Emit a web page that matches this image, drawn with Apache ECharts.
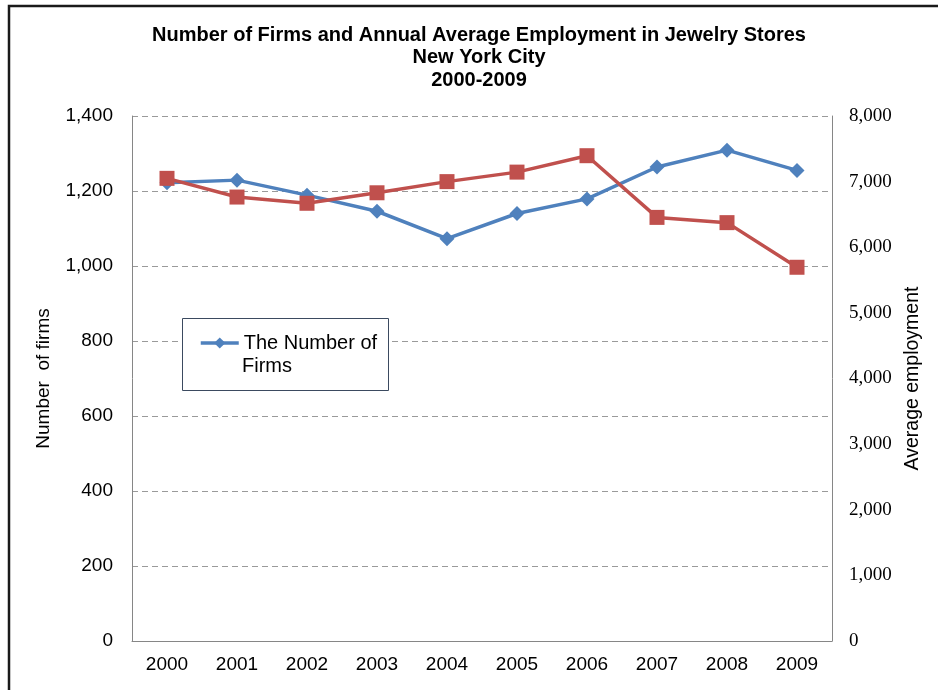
<!DOCTYPE html>
<html>
<head>
<meta charset="utf-8">
<script src="https://cdn.jsdelivr.net/npm/echarts@6/dist/echarts.min.js"></script>
<style>
  html, body { margin: 0; padding: 0; background: #ffffff; }
  #chart { width: 938px; height: 690px; }
</style>
</head>
<body>
<div id="chart"></div>
<script>
// Jewelry stores in New York City, 2000-2009
const years = ['2000', '2001', '2002', '2003', '2004', '2005', '2006', '2007', '2008', '2009'];
const firms = [1222, 1229, 1189, 1146, 1073, 1140, 1179, 1264, 1309, 1255];
const employment = [7050, 6765, 6670, 6830, 7000, 7145, 7395, 6455, 6375, 5695];

const firmTicks = { min: 0, max: 1400, interval: 200 };
const employmentTicks = { min: 0, max: 8000, interval: 1000 };

const sans = 'Liberation Sans, Arial, sans-serif';
const serif = 'Liberation Serif, Times New Roman, serif';
const blue = '#4F81BD';
const red = '#C0504D';

const chart = echarts.init(document.getElementById('chart'), null, { renderer: 'canvas' });

chart.setOption({
  backgroundColor: '#ffffff',
  animation: false,
  title: {
    text: 'Number of Firms and Annual Average Employment in Jewelry Stores\nNew York City\n2000-2009',
    left: 479,
    top: 24,
    padding: 0,
    textAlign: 'center',
    textStyle: {
      fontFamily: sans,
      fontWeight: 'bold',
      fontSize: 20,
      lineHeight: 22.5,
      color: '#000000'
    }
  },
  graphic: [
    {
      // outer frame (open at the right and bottom)
      type: 'rect',
      shape: { x: 9, y: 6, width: 1000, height: 1000 },
      style: { fill: 'none', stroke: '#1a1a1a', lineWidth: 2.5 },
      silent: true
    },
    {
      // legend box
      type: 'rect',
      shape: { x: 182.5, y: 318.5, width: 206, height: 72 },
      style: { fill: '#ffffff', stroke: '#3b4a60', lineWidth: 1 },
      z: 4,
      silent: true
    },
    {
      // second line of the legend entry
      type: 'text',
      left: 242,
      top: 356,
      z: 12,
      style: {
        text: 'Firms',
        fontFamily: sans,
        fontSize: 20,
        fill: '#000000'
      },
      silent: true
    }
  ],
  legend: {
    data: ['The Number of Firms'],
    left: 199,
    top: 333,
    padding: 0,
    itemWidth: 38,
    itemHeight: 14,
    z: 10,
    formatter: function () { return 'The Number of'; },
    lineStyle: { width: 3.5 },
    textStyle: {
      fontFamily: sans,
      fontSize: 20,
      color: '#000000'
    }
  },
  grid: {
    left: 132,
    right: 106,
    top: 116,
    bottom: 49,
    containLabel: false
  },
  xAxis: {
    type: 'category',
    data: years,
    boundaryGap: true,
    axisLine: { show: true, lineStyle: { color: '#868686', width: 1 } },
    axisTick: { show: false },
    axisLabel: {
      fontFamily: sans,
      fontSize: 19,
      color: '#000000',
      margin: 14
    }
  },
  yAxis: [
    {
      type: 'value',
      min: firmTicks.min,
      max: firmTicks.max,
      interval: firmTicks.interval,
      position: 'left',
      name: 'Number  of firms',
      nameLocation: 'middle',
      nameRotate: 90,
      nameGap: 79,
      nameTextStyle: { fontFamily: sans, fontSize: 19, color: '#000000' },
      axisLine: { show: true, lineStyle: { color: '#868686', width: 1 } },
      axisTick: { show: false },
      axisLabel: {
        fontFamily: sans,
        fontSize: 19,
        color: '#000000',
        margin: 19,
        formatter: function (v) { return v.toLocaleString('en-US'); }
      },
      splitLine: {
        show: true,
        lineStyle: { color: '#9a9a9a', type: [6, 4], width: 1 }
      }
    },
    {
      type: 'value',
      min: employmentTicks.min,
      max: employmentTicks.max,
      interval: employmentTicks.interval,
      position: 'right',
      name: 'Average employment',
      nameLocation: 'middle',
      nameRotate: 90,
      nameGap: 65,
      nameTextStyle: { fontFamily: sans, fontSize: 19.5, color: '#000000' },
      axisLine: { show: true, lineStyle: { color: '#868686', width: 1 } },
      axisTick: { show: false },
      axisLabel: {
        fontFamily: serif,
        fontSize: 19,
        color: '#000000',
        margin: 17,
        formatter: function (v) { return v.toLocaleString('en-US'); }
      },
      splitLine: { show: false }
    }
  ],
  series: [
    {
      name: 'The Number of Firms',
      type: 'line',
      yAxisIndex: 0,
      data: firms,
      symbol: 'diamond',
      symbolSize: 15,
      lineStyle: { color: blue, width: 3.5 },
      itemStyle: { color: blue },
      z: 3
    },
    {
      name: 'Average employment',
      type: 'line',
      yAxisIndex: 1,
      data: employment,
      symbol: 'rect',
      symbolSize: 15,
      lineStyle: { color: red, width: 3.5 },
      itemStyle: { color: red },
      z: 4
    }
  ]
});
</script>
</body>
</html>
